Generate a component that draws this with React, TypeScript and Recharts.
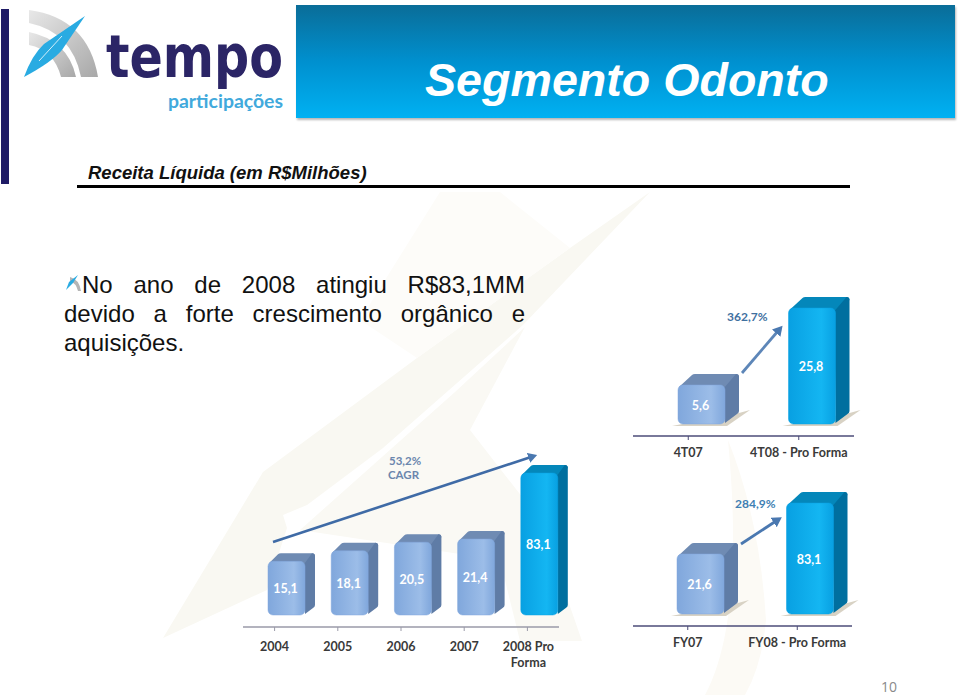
import React from 'react';
import { BarChart, Bar, XAxis, YAxis } from 'recharts';

// Receita liquida, R$ milhoes
const anos = ['2004', '2005', '2006', '2007', '2008 Pro Forma'];
const receitaAnual = [15.1, 18.1, 20.5, 21.4, 83.1];
const trimestres = ['4T07', '4T08 - Pro Forma'];
const receitaTrimestre = [5.6, 25.8];
const exercicios = ['FY07', 'FY08 - Pro Forma'];
const receitaExercicio = [21.6, 83.1];

const LIGHT = { hi: '#9cbde8', lo: '#80a7dc', top: '#6f8bb3', side: '#5f7ca6' };
const BLUE = { hi: '#14b6f2', lo: '#08a0e2', top: '#0487ba', side: '#006f9f' };
const FONT = 'Lato, sans-serif';
const SPILL = 24; // room right of the axis, the 3D bars stick out past it

// the source picture is not drawn to one scale: each panel has its own broken axis
function brokenScale(values: number[], heights: number[], lift: number) {
  let dom = [values[0], values[values.length - 1]];
  let rng = [0, 1];
  const scale: any = (v: number) => {
    let i = 0;
    while (i < values.length - 2 && v > values[i + 1]) i++;
    const t = (v - values[i]) / (values[i + 1] - values[i]);
    return rng[0] - lift - (heights[i] + t * (heights[i + 1] - heights[i]));
  };
  scale.domain = (d?: number[]) => {
    if (!d) return dom;
    dom = d;
    return scale;
  };
  scale.range = (r?: number[]) => {
    if (!r) return rng;
    rng = r;
    return scale;
  };
  scale.copy = () => {
    const c = brokenScale(values, heights, lift);
    c.domain(dom);
    c.range(rng);
    return c;
  };
  scale.ticks = () => values;
  return scale;
}

const Bar3D = (props: any) => {
  const { x, y, width, height, value, index, hotIndex, dx, depthX, depthY, shadow, gid, fontSize } = props;
  const c = index === hotIndex ? BLUE : LIGHT;
  const l = x + dx;
  const r = l + width;
  const b = y + height;
  const g = index === hotIndex ? gid + 'b' : gid + 'a';
  return (
    <g>
      {shadow && (
        <path d={`M${l - 6} ${b + 2} L${r + 2} ${b + 2} L${r + depthX + 11} ${b - depthY - 3} L${r + depthX} ${b - depthY} Z`} fill="#d8d2c4" />
      )}
      <path
        d={`M${l + 1} ${y + 2} L${l + depthX} ${y - depthY + 1} Q${l + depthX + 1} ${y - depthY} ${l + depthX + 3} ${y - depthY} L${r + depthX - 3} ${y - depthY} Q${r + depthX} ${y - depthY} ${r + depthX} ${y - depthY + 3} L${r} ${y + 4} Z`}
        fill={c.top}
      />
      <path
        d={`M${r - 1} ${y + 3} L${r + depthX - 3} ${y - depthY} Q${r + depthX} ${y - depthY} ${r + depthX} ${y - depthY + 3} L${r + depthX} ${b - depthY - 2} Q${r + depthX} ${b - depthY} ${r + depthX - 2} ${b - depthY + 1} L${r} ${b - 1} Z`}
        fill={c.side}
      />
      <rect x={l} y={y} width={width} height={height} rx={5} fill={`url(#${g})`} stroke={c.lo} strokeWidth={0.5} />
      <text
        x={l + width / 2 - 1}
        y={y + height / 2 + 5}
        textAnchor="middle"
        fill="#ffffff"
        fontFamily={FONT}
        fontWeight={700}
        fontSize={fontSize}
      >
        {String(value).replace('.', ',')}
      </text>
    </g>
  );
};

const Grad = ({ id }: { id: string }) => (
  <defs>
    <linearGradient id={id + 'a'} x1="0" y1="0" x2="1" y2="0">
      <stop offset="0" stopColor={LIGHT.lo} />
      <stop offset="0.7" stopColor={LIGHT.hi} />
      <stop offset="1" stopColor={LIGHT.lo} />
    </linearGradient>
    <linearGradient id={id + 'b'} x1="0" y1="0" x2="1" y2="0">
      <stop offset="0" stopColor={BLUE.lo} />
      <stop offset="0.7" stopColor={BLUE.hi} />
      <stop offset="1" stopColor={BLUE.lo} />
    </linearGradient>
  </defs>
);

const WrappedTick = ({ x, y, payload, drop }: any) => {
  const m = /^(\d{4} Pro) (Forma)$/.exec(payload.value);
  const style = { fontFamily: FONT, fontWeight: 700, fontSize: 12.5, fill: '#3a3a3a' };
  if (!m) {
    return (
      <text x={x} y={y + drop} textAnchor="middle" {...style}>
        {payload.value}
      </text>
    );
  }
  return (
    <text x={x + 1} y={y + drop} textAnchor="middle" {...style}>
      <tspan x={x + 1}>{m[1]}</tspan>
      <tspan x={x + 1} dy={16}>
        {m[2]}
      </tspan>
    </text>
  );
};

const Panel = ({ id, left, top, width, height, cats, vals, scale, barSize, dx, depthX, depthY, shadow, axisColor, drop }: any) => {
  const data = cats.map((c: string, i: number) => ({ name: c, valor: vals[i] }));
  return (
    <div style={{ position: 'absolute', left, top, width: width + SPILL, height }}>
      <BarChart width={width + SPILL} height={height} data={data} margin={{ top: 10, right: SPILL, bottom: 14, left: 0 }} barSize={barSize}>
        <Grad id={id} />
        <XAxis
          dataKey="name"
          interval={0}
          height={30}
          tickLine={{ stroke: axisColor }}
          axisLine={{ stroke: axisColor, strokeWidth: 1.5 }}
          tickSize={4}
          tick={<WrappedTick drop={drop} />}
        />
        <YAxis hide domain={[0, 100]} scale={scale} />
        <Bar
          dataKey="valor"
          isAnimationActive={false}
          shape={(p: any) => (
            <Bar3D {...p} hotIndex={cats.length - 1} dx={dx} depthX={depthX} depthY={depthY} shadow={shadow} gid={id} fontSize={12.5} />
          )}
        />
      </BarChart>
    </div>
  );
};

const Watermark = () => (
  <svg width={959} height={695} style={{ position: 'absolute', left: 0, top: 0 }}>
    <path d="M163 638 L263 472 L417 358 L570 248 L650 192 L523 325 L383 448 L307 505 L283 515 L287 528 L267 590 Z" fill="#f9f8f2" />
    <path d="M300 530 L455 392 L525 327 L470 430 L540 520 L582 641 L520 641 L500 560 Z" fill="#faf9f4" />
    <path d="M440 192 L500 192 L570 248 L417 358 L360 320 Z" fill="#fdfcf9" />
    <path d="M728 440 Q760 520 766 620 Q762 665 745 695 L705 695 Q745 620 728 440 Z" fill="#fcfaf5" />
  </svg>
);

const Logo = () => (
  <svg width={300} height={120} style={{ position: 'absolute', left: 0, top: 0, overflow: 'visible' }}>
    <defs>
      <linearGradient id="arco" x1="0" y1="0" x2="1" y2="1">
        <stop offset="0" stopColor="#e8e8e8" />
        <stop offset="1" stopColor="#a8a8a8" />
      </linearGradient>
    </defs>
    <path d="M29 10 Q88 18 98 77 L81 77 Q72 32 29 23 Z" fill="url(#arco)" />
    <path d="M29 32 Q68 40 76 77 L61 77 Q54 50 29 45 Z" fill="url(#arco)" />
    <path d="M85 16 L62 50 Q52 62 24 77 Q32 55 44 44 Z" fill="#29abe2" />
    <path d="M39 61 L62 36" stroke="#ffffff" strokeWidth={0.8} />
    <text x={106} y={77} fontFamily="'DejaVu Sans', sans-serif" fontWeight={700} fontSize={58} fill="#2b2566" textLength={177} lengthAdjust="spacingAndGlyphs">
      tempo
    </text>
    <text x={168} y={108} fontFamily="Lato, sans-serif" fontWeight={700} fontSize={19} fill="#41a9dc" textLength={115} lengthAdjust="spacingAndGlyphs">
      participações
    </text>
  </svg>
);

const Annotations = () => (
  <svg width={959} height={695} style={{ position: 'absolute', left: 0, top: 0, pointerEvents: 'none' }}>
    <defs>
      <marker id="seta" markerWidth="4" markerHeight="4" refX="1" refY="2" orient="auto">
        <path d="M0 0 L3.5 2 L0 4 Z" fill="#4a78b0" />
      </marker>
    </defs>
    <line x1={273} y1={542} x2={531} y2={457} stroke="#3f6ba6" strokeWidth={2.6} markerEnd="url(#seta)" />
    <line x1={742} y1={373} x2={778} y2={331} stroke="#5d86b8" strokeWidth={2.8} markerEnd="url(#seta)" />
    <line x1={741} y1={544} x2={776} y2={521} stroke="#4a78b0" strokeWidth={2.8} markerEnd="url(#seta)" />
    <g fontFamily={FONT} fontWeight={700} fontSize={12}>
      <text x={389} y={465} fontSize={11.5} fill="#6b86ad">53,2%</text>
      <text x={388} y={479} fontSize={11.5} fill="#6b86ad">CAGR</text>
      <text x={727} y={321} fill="#3f709f">362,7%</text>
      <text x={735} y={508} fill="#3f7fb3">284,9%</text>
    </g>
  </svg>
);

const annualScale = brokenScale([0, 21.4, 83.1], [0, 76, 142], 12);
const quarterScale = brokenScale([0, 5.6, 25.8], [0, 39, 116], 12);
const yearScale = brokenScale([0, 21.6, 83.1], [0, 60, 111], 12);

export default function App() {
  return (
    <div style={{ position: 'absolute', left: 0, top: 0, width: 959, height: 695, background: '#ffffff', overflow: 'hidden', fontFamily: '"Liberation Sans", Arial, sans-serif' }}>
      <Watermark />
      <div style={{ position: 'absolute', left: 1, top: 9, width: 8, height: 175, background: '#1f1b66' }} />
      <Logo />
      <div
        style={{
          position: 'absolute',
          left: 296,
          top: 5,
          width: 659,
          height: 113,
          background: 'linear-gradient(#0a6d98, #0090cf 50%, #00b1f2)',
          boxShadow: '1px 2px 2px #b8b8b8',
          color: '#fff',
          fontStyle: 'italic',
          fontWeight: 700,
          fontSize: 46.6,
          lineHeight: '50px',
          paddingTop: 50,
          boxSizing: 'border-box',
          paddingLeft: 129,
          whiteSpace: 'nowrap',
        }}
      >
        Segmento Odonto
      </div>
      <div style={{ position: 'absolute', left: 88, top: 162, fontStyle: 'italic', fontWeight: 700, fontSize: 18.5, lineHeight: '22px', color: '#111', whiteSpace: 'nowrap' }}>
        Receita Líquida (em R$Milhões)
      </div>
      <div style={{ position: 'absolute', left: 77, top: 185, width: 773, height: 2.5, background: '#000' }} />

      <svg width={20} height={20} style={{ position: 'absolute', left: 64, top: 274 }}>
        <path d="M6 3 Q15 5 17 17 L14 17 Q12 9 6 7 Z" fill="#b5b5b5" />
        <path d="M14 1 L9 9 L2 16 L5 8 Z" fill="#29abe2" />
      </svg>
      <div style={{ position: 'absolute', fontSize: 24, lineHeight: '29px', color: '#111' }}>
        <div style={{ position: 'absolute', left: 82, top: 270, width: 443, textAlign: 'justify', textAlignLast: 'justify' }}>No ano de 2008 atingiu R$83,1MM</div>
        <div style={{ position: 'absolute', left: 64, top: 299, width: 461, textAlign: 'justify', textAlignLast: 'justify' }}>devido a forte crescimento orgânico e</div>
        <div style={{ position: 'absolute', left: 64, top: 328, whiteSpace: 'nowrap' }}>aquisições.</div>
      </div>

      <Panel id="anual" left={243} top={456} width={316} height={215} cats={anos} vals={receitaAnual} scale={annualScale} barSize={37} dx={12} depthX={10} depthY={8} axisColor="#9a9aa8" drop={18} />
      <Panel id="tri" left={633} top={288} width={221} height={192} cats={trimestres} vals={receitaTrimestre} scale={quarterScale} barSize={47} dx={13} depthX={14} depthY={11} shadow axisColor="#4c4c78" drop={15} />
      <Panel id="ano" left={633} top={478} width={219} height={192} cats={exercicios} vals={receitaExercicio} scale={yearScale} barSize={47} dx={13} depthX={14} depthY={11} shadow axisColor="#4c4c78" drop={15} />

      <Annotations />
      <div style={{ position: 'absolute', left: 881, top: 680, fontFamily: '"Open Sans", sans-serif', fontSize: 14, lineHeight: '14px', color: '#8a8a8a' }}>10</div>
    </div>
  );
}
